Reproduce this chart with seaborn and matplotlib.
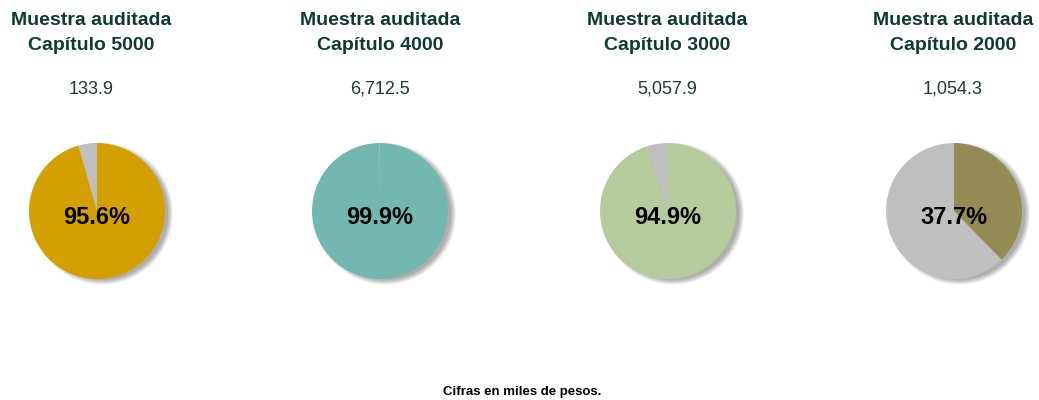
import matplotlib
matplotlib.use("Agg")
from matplotlib import pyplot as plt
from matplotlib.patches import Circle
import seaborn as sns

capitulos = ["5000", "4000", "3000", "2000"]
montos = ["133.9", "6,712.5", "5,057.9", "1,054.3"]
porcentajes = [95.6, 99.9, 94.9, 37.7]
colores = ["#D4A000", "#72B8B0", "#B5CB9B", "#948B54"]
gris = "#BFBFBF"

sns.set_style("white")
plt.rcParams['font.family'] = ['Liberation Sans', 'DejaVu Sans']

W, H = 1039, 400
fig = plt.figure(figsize=(W / 100, H / 100), dpi=100)

# pixel layout
pie_cx = [97, 380, 668, 954]
title_cx = [91, 380, 667, 953]
pie_cy = 211
rad = 68
box = 180
lim = box / 2 / rad

texto = "#0E3A34"

for i in range(4):
    ax = fig.add_axes([(pie_cx[i] - box / 2) / W, (H - pie_cy - box / 2) / H, box / W, box / H])
    # soft shadow to the right
    for k in range(7):
        ax.add_patch(Circle((0.075, -0.04), 0.97 + 0.012 * k, color="#000000",
                            alpha=0.05, lw=0, zorder=0))
    p = porcentajes[i]
    ax.pie([p, 100 - p], colors=[colores[i], gris], startangle=90,
           counterclock=False, radius=1, wedgeprops=dict(linewidth=0))
    ax.text(0, -0.1, f"{p:.1f}%", ha="center", va="center",
            fontsize=17, fontweight="bold", color="black", zorder=5)
    ax.set_xlim(-lim, lim)
    ax.set_ylim(-lim, lim)
    ax.set_aspect("equal")
    ax.axis("off")

    fig.text(title_cx[i] / W, 1 - 33 / H, f"Muestra auditada\nCapítulo {capitulos[i]}",
             ha="center", va="center", fontsize=14, fontweight="bold",
             color=texto, linespacing=1.6)
    fig.text(title_cx[i] / W, 1 - 89 / H, montos[i], ha="center", va="center",
             fontsize=13, color="#1E3A38")

fig.text(522 / W, 1 - 392 / H, "Cifras en miles de pesos.", ha="center", va="center",
         fontsize=9.5, fontweight="bold", color="black")

fig.savefig("out.png", dpi=100, facecolor="white")
